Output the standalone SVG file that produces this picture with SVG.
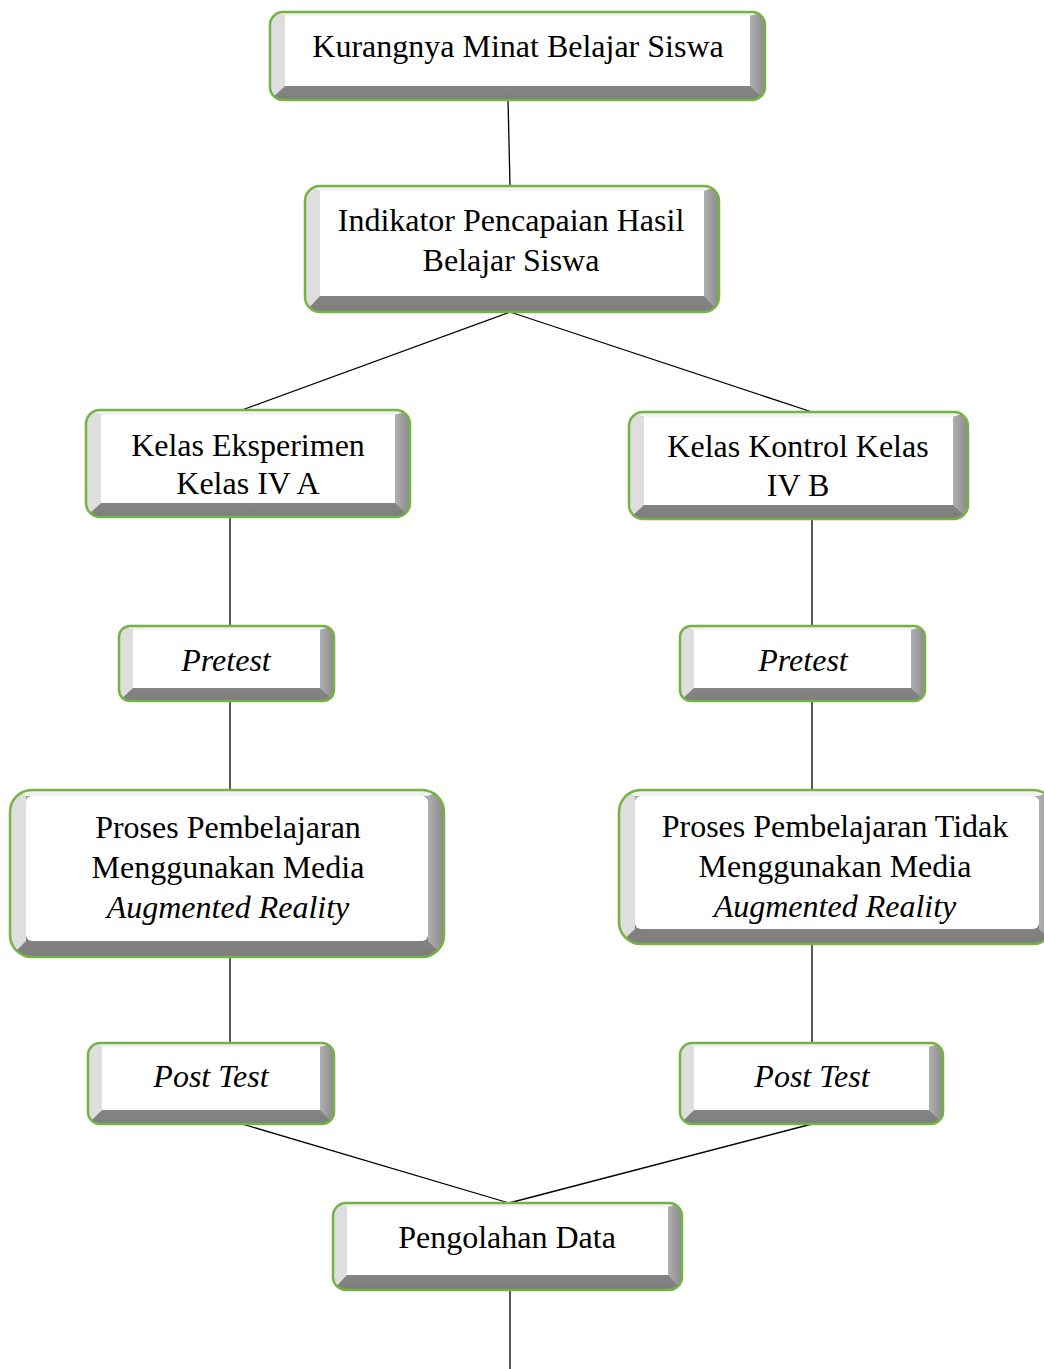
<svg xmlns="http://www.w3.org/2000/svg" width="1044" height="1369" viewBox="0 0 1044 1369">
<style>
.base{fill:url(#gb)}
.lb{fill:#dedede}
.rb{fill:url(#gr)}
.tb{fill:#f2f2f2}
.face{fill:#ffffff}
.edge{fill:none;stroke:#74b344;stroke-width:2.5}
.t{font-family:"Liberation Serif","Times New Roman",serif;font-size:32px;fill:#000;text-anchor:middle}
.i{font-style:italic}
.c{stroke:#000;stroke-width:1.3;fill:none}
</style>
<defs>
<linearGradient id="gb" x1="0" y1="0" x2="0" y2="1"><stop offset="0" stop-color="#a4a4a4"/><stop offset="1" stop-color="#7e7e7e"/></linearGradient>
<linearGradient id="gr" x1="0" y1="0" x2="1" y2="0"><stop offset="0" stop-color="#b0b0b0"/><stop offset="1" stop-color="#8a8a8a"/></linearGradient>
<clipPath id="k1"><rect x="270" y="12" width="495" height="88" rx="13"/></clipPath>
<clipPath id="k2"><rect x="305" y="186" width="414" height="126" rx="15"/></clipPath>
<clipPath id="k3"><rect x="86" y="410" width="324" height="107" rx="14"/></clipPath>
<clipPath id="k4"><rect x="629" y="412" width="339" height="107" rx="14"/></clipPath>
<clipPath id="k5"><rect x="119" y="626" width="215" height="75" rx="11"/></clipPath>
<clipPath id="k6"><rect x="680" y="626" width="245" height="75" rx="11"/></clipPath>
<clipPath id="k7"><rect x="10" y="790" width="434" height="167" rx="22"/></clipPath>
<clipPath id="k8"><rect x="619" y="790" width="436" height="154" rx="22"/></clipPath>
<clipPath id="k9"><rect x="88" y="1043" width="246" height="81" rx="12"/></clipPath>
<clipPath id="k10"><rect x="680" y="1043" width="263" height="81" rx="12"/></clipPath>
<clipPath id="k11"><rect x="333" y="1203" width="349" height="87" rx="13"/></clipPath>
</defs>
<rect width="1044" height="1369" fill="#fff"/>

<g id="connectors">
<line class="c" x1="508" y1="100" x2="510" y2="186"/>
<line class="c" x1="510" y1="312" x2="242" y2="410"/>
<line class="c" x1="510" y1="312" x2="812" y2="412"/>
<line class="c" x1="230" y1="517" x2="230" y2="626"/>
<line class="c" x1="812" y1="519" x2="812" y2="626"/>
<line class="c" x1="230" y1="701" x2="230" y2="790"/>
<line class="c" x1="812" y1="701" x2="812" y2="790"/>
<line class="c" x1="230" y1="957" x2="230" y2="1043"/>
<line class="c" x1="812" y1="944" x2="812" y2="1043"/>
<line class="c" x1="242" y1="1124" x2="509" y2="1203"/>
<line class="c" x1="812" y1="1124" x2="509" y2="1203"/>
<line class="c" x1="510" y1="1290" x2="510" y2="1369"/>
</g>

<g id="n1">
<g clip-path="url(#k1)">
<rect class="base" x="270" y="12" width="495" height="88"/>
<polygon class="tb" points="270,12 765,12 750,16 285,16"/>
<polygon class="lb" points="270,12 285,16 285,86 270,100"/>
<polygon class="rb" points="765,12 750,16 750,86 765,100"/>
<rect class="face" x="285" y="16" width="465" height="70"/>
</g>
<rect class="edge" x="270" y="12" width="495" height="88" rx="13"/>
<text class="t" x="518" y="57">Kurangnya Minat Belajar Siswa</text>
</g>

<g id="n2">
<g clip-path="url(#k2)">
<rect class="base" x="305" y="186" width="414" height="126"/>
<polygon class="tb" points="305,186 719,186 704,191 320,191"/>
<polygon class="lb" points="305,186 320,191 320,296 305,312"/>
<polygon class="rb" points="719,186 704,191 704,296 719,312"/>
<rect class="face" x="320" y="191" width="384" height="105"/>
</g>
<rect class="edge" x="305" y="186" width="414" height="126" rx="15"/>
<text class="t" x="511" y="231">Indikator Pencapaian Hasil</text>
<text class="t" x="511" y="271">Belajar Siswa</text>
</g>

<g id="n3">
<g clip-path="url(#k3)">
<rect class="base" x="86" y="410" width="324" height="107"/>
<polygon class="tb" points="86,410 410,410 395,415 101,415"/>
<polygon class="lb" points="86,410 101,415 101,503 86,517"/>
<polygon class="rb" points="410,410 395,415 395,503 410,517"/>
<rect class="face" x="101" y="415" width="294" height="88"/>
</g>
<rect class="edge" x="86" y="410" width="324" height="107" rx="14"/>
<text class="t" x="248" y="456">Kelas Eksperimen</text>
<text class="t" x="248" y="494">Kelas IV A</text>
</g>

<g id="n4">
<g clip-path="url(#k4)">
<rect class="base" x="629" y="412" width="339" height="107"/>
<polygon class="tb" points="629,412 968,412 953,417 644,417"/>
<polygon class="lb" points="629,412 644,417 644,505 629,519"/>
<polygon class="rb" points="968,412 953,417 953,505 968,519"/>
<rect class="face" x="644" y="417" width="309" height="88"/>
</g>
<rect class="edge" x="629" y="412" width="339" height="107" rx="14"/>
<text class="t" x="798" y="457">Kelas Kontrol Kelas</text>
<text class="t" x="798" y="496">IV B</text>
</g>

<g id="n5">
<g clip-path="url(#k5)">
<rect class="base" x="119" y="626" width="215" height="75"/>
<polygon class="tb" points="119,626 334,626 320,630 133,630"/>
<polygon class="lb" points="119,626 133,630 133,688 119,701"/>
<polygon class="rb" points="334,626 320,630 320,688 334,701"/>
<rect class="face" x="133" y="630" width="187" height="58"/>
</g>
<rect class="edge" x="119" y="626" width="215" height="75" rx="11"/>
<text class="t i" x="226" y="671">Pretest</text>
</g>

<g id="n6">
<g clip-path="url(#k6)">
<rect class="base" x="680" y="626" width="245" height="75"/>
<polygon class="tb" points="680,626 925,626 911,630 694,630"/>
<polygon class="lb" points="680,626 694,630 694,688 680,701"/>
<polygon class="rb" points="925,626 911,630 911,688 925,701"/>
<rect class="face" x="694" y="630" width="217" height="58"/>
</g>
<rect class="edge" x="680" y="626" width="245" height="75" rx="11"/>
<text class="t i" x="803" y="671">Pretest</text>
</g>

<g id="n7">
<g clip-path="url(#k7)">
<rect class="base" x="10" y="790" width="434" height="167"/>
<polygon class="tb" points="10,790 444,790 428,796 26,796"/>
<polygon class="lb" points="10,790 26,796 26,941 10,957"/>
<polygon class="rb" points="444,790 428,796 428,941 444,957"/>
<rect class="face" x="26" y="796" width="402" height="145" rx="6"/>
</g>
<rect class="edge" x="10" y="790" width="434" height="167" rx="22"/>
<text class="t" x="228" y="838">Proses Pembelajaran</text>
<text class="t" x="228" y="878">Menggunakan Media</text>
<text class="t i" x="228" y="918">Augmented Reality</text>
</g>

<g id="n8">
<g clip-path="url(#k8)">
<rect class="base" x="619" y="790" width="436" height="154"/>
<polygon class="tb" points="619,790 1055,790 1039,796 635,796"/>
<polygon class="lb" points="619,790 635,796 635,929 619,944"/>
<polygon class="rb" points="1055,790 1039,796 1039,929 1055,944"/>
<rect class="face" x="635" y="796" width="404" height="133" rx="6"/>
</g>
<rect class="edge" x="619" y="790" width="436" height="154" rx="22"/>
<text class="t" x="835" y="837">Proses Pembelajaran Tidak</text>
<text class="t" x="835" y="877">Menggunakan Media</text>
<text class="t i" x="835" y="917">Augmented Reality</text>
</g>

<g id="n9">
<g clip-path="url(#k9)">
<rect class="base" x="88" y="1043" width="246" height="81"/>
<polygon class="tb" points="88,1043 334,1043 320,1047 102,1047"/>
<polygon class="lb" points="88,1043 102,1047 102,1110 88,1124"/>
<polygon class="rb" points="334,1043 320,1047 320,1110 334,1124"/>
<rect class="face" x="102" y="1047" width="218" height="63"/>
</g>
<rect class="edge" x="88" y="1043" width="246" height="81" rx="12"/>
<text class="t i" x="211" y="1087">Post Test</text>
</g>

<g id="n10">
<g clip-path="url(#k10)">
<rect class="base" x="680" y="1043" width="263" height="81"/>
<polygon class="tb" points="680,1043 943,1043 929,1047 694,1047"/>
<polygon class="lb" points="680,1043 694,1047 694,1110 680,1124"/>
<polygon class="rb" points="943,1043 929,1047 929,1110 943,1124"/>
<rect class="face" x="694" y="1047" width="235" height="63"/>
</g>
<rect class="edge" x="680" y="1043" width="263" height="81" rx="12"/>
<text class="t i" x="812" y="1087">Post Test</text>
</g>

<g id="n11">
<g clip-path="url(#k11)">
<rect class="base" x="333" y="1203" width="349" height="87"/>
<polygon class="tb" points="333,1203 682,1203 668,1207 347,1207"/>
<polygon class="lb" points="333,1203 347,1207 347,1275 333,1290"/>
<polygon class="rb" points="682,1203 668,1207 668,1275 682,1290"/>
<rect class="face" x="347" y="1207" width="321" height="68"/>
</g>
<rect class="edge" x="333" y="1203" width="349" height="87" rx="13"/>
<text class="t" x="507" y="1248">Pengolahan Data</text>
</g>
</svg>
